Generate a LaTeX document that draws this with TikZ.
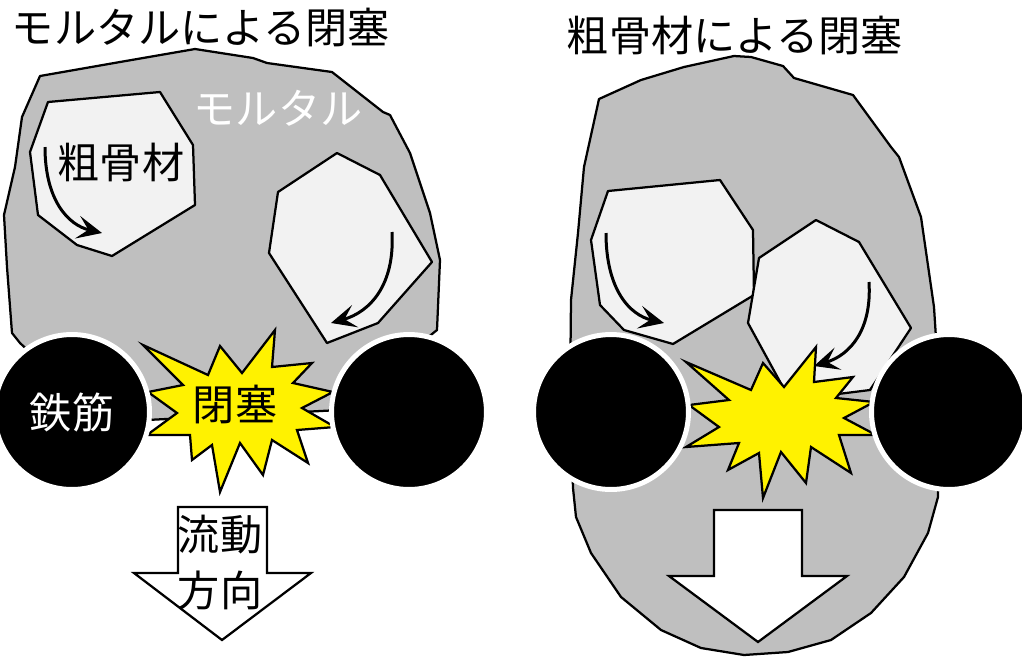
\documentclass[tikz,border=0pt]{standalone}
\usepackage{fontspec}
\setmainfont{Noto Sans CJK JP}
\usepackage{tikz}
\usetikzlibrary{arrows.meta,calc,positioning}
\definecolor{MortarGray}{HTML}{BFBFBF}
\definecolor{StoneGray}{HTML}{F2F2F2}
\tikzstyle{mortar}=[draw, fill=MortarGray, line width=0.045cm, line join=round]
\tikzstyle{stone}=[draw, fill=StoneGray, line width=0.045cm, line join=round]
\tikzstyle{burst}=[draw, fill=yellow, line width=0.045cm, line join=miter]
\tikzstyle{rebar}=[circle, fill=black, draw=white, line width=0.1cm, minimum size=3.1cm, inner sep=0pt, text=white]
\tikzstyle{flow}=[draw, fill=white, line width=0.045cm, line join=miter]
\tikzstyle{swirl}=[line width=0.06cm, -{Stealth[length=0.5cm, width=0.46cm, inset=0.22cm]}]
\tikzstyle{jp}=[font=\fontsize{24}{28}\selectfont, inner sep=0pt]

\begin{document}
\begin{tikzpicture}[x=0.02cm, y=-0.02cm]
  \useasboundingbox (0,0) rectangle (1022,657);

  % mortar bodies
  \draw[mortar] (40,76) -- (120,62) -- (195,49) -- (253,58) -- (267,63) -- (332,72)
    -- (383,112) -- (390,115) -- (410,153) -- (430,213) -- (440,260) -- (437,330)
    -- (400,360) -- (340,410) -- (147,420) -- (60,380) -- (20,343) -- (12,333)
    -- (7,267) -- (4,215) -- (15,167) -- (22,117) -- cycle;
  \draw[mortar] (599,99) -- (641,80) -- (684,67) -- (734,56) -- (751,57) -- (783,66)
    -- (794,78) -- (853,95) -- (891,147) -- (899,157) -- (921,217) -- (934,307)
    -- (940,400) -- (938,497) -- (928,533) -- (904,577) -- (871,613) -- (831,640)
    -- (788,652) -- (744,655) -- (701,648) -- (661,630) -- (621,597) -- (591,553)
    -- (576,517) -- (573,488) -- (570,400) -- (571,300) -- (578,233) -- (584,167) -- cycle;

  % coarse aggregate
  \draw[stone] (48,102) -- (160,92) -- (193,145) -- (195,205) -- (112,256) -- (77,245)
    -- (38,215) -- (30,152) -- cycle;
  \draw[stone] (337,153) -- (380,175) -- (432,262) -- (378,323) -- (327,343)
    -- (269,253) -- (278,192) -- cycle;
  \draw[stone] (608,191) -- (720,180) -- (753,230) -- (754,295) -- (673,344)
    -- (624,330) -- (600,305) -- (591,240) -- cycle;
  \draw[stone] (816,220) -- (859,242) -- (911,328) -- (870,390) -- (790,400)
    -- (748,323) -- (759,258) -- cycle;

  \draw[swirl] (45,147) .. controls (45,200) and (68,225) .. (102,233);
  \draw[swirl] (392,232) .. controls (395,285) and (370,312) .. (331,323);
  \draw[swirl] (606,233) .. controls (606,290) and (630,315) .. (664,323);
  \draw[swirl] (869,282) .. controls (872,330) and (850,355) .. (814,366);

  % blockage
  \draw[burst] (143,345) -- (208,375) -- (220,346) -- (242,373) -- (275,330) -- (272,367)
    -- (312,363) -- (293,383) -- (333,392) -- (302,408) -- (335,427) -- (297,430)
    -- (308,463) -- (272,440) -- (263,475) -- (240,443) -- (220,492) -- (212,445)
    -- (192,460) -- (190,435) -- (147,435) -- (177,413) -- (148,392) -- (183,385) -- cycle;
  \draw[burst] (686,362) -- (751,390) -- (763,363) -- (784,387) -- (816,347) -- (814,382)
    -- (853,377) -- (836,398) -- (874,402) -- (844,418) -- (876,435) -- (839,435)
    -- (851,473) -- (811,447) -- (806,483) -- (781,452) -- (763,498) -- (759,453)
    -- (728,470) -- (739,443) -- (686,447) -- (719,427) -- (689,405) -- (729,400) -- cycle;

  % reinforcing bars
  \node[rebar, jp, text=white] (barL1) at (72,412) {鉄筋};
  \node[rebar] (barL2) at (409,412) {};
  \node[rebar] (barR1) at (611,412) {};
  \node[rebar] (barR2) at (949,412) {};

  % flow direction
  \draw[flow] (178,507) -- (267,507) -- (267,573) -- (311,573) -- (222,640)
    -- (134,573) -- (178,573) -- cycle;
  \draw[flow] (714,510) -- (802,510) -- (802,576) -- (847,576) -- (758,642)
    -- (669,576) -- (714,576) -- cycle;

  \node[jp] (titleL) at (201,27) {モルタルによる閉塞};
  \node[jp] (titleR) at (735,35) {粗骨材による閉塞};
  \node[jp, text=white] (pasteL) at (278,108) {モルタル};
  \node[jp] (stoneL) at (121,162) {粗骨材};
  \node[jp] (blockL) at (235,404) {閉塞};
  \node[jp] (flowA) at (220,535) {流動};
  \node[jp] (flowB) at (220,590) {方向};
\end{tikzpicture}
\end{document}
